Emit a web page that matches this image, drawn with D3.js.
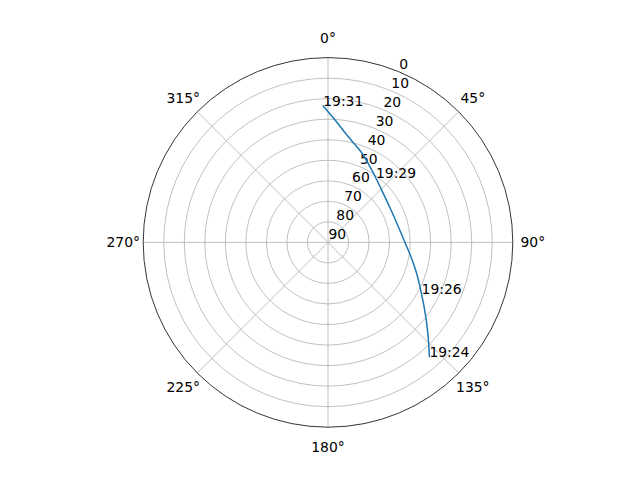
<!DOCTYPE html>
<html>
<head>
<meta charset="utf-8">
<script src="https://cdn.jsdelivr.net/npm/d3@7"></script>
<style>
  html, body { margin: 0; padding: 0; background: #fff; }
  text { font-family: "DejaVu Sans", sans-serif; font-size: 13.9px; fill: #000; }
</style>
</head>
<body>
<svg id="chart" width="640" height="480"></svg>
<script>
// Satellite pass (azimuth deg, elevation deg).
const azimuth = [138.4, 134.2, 129.3, 123.8, 118.9, 109.2, 99.8, 89.5, 77.4, 62.8, 48.4, 36.8, 31.1, 20.9, 10.9, 3.3, 358.0];
const elevation = [15.6, 21.8, 27.9, 33.7, 37.95, 44.3, 49.0, 52.65, 54.9, 55.5, 54.0, 51.0, 48.8, 43.5, 37.6, 30.3, 23.5];
const timeLabels = ['19:24', '', '', '', '19:26', '', '', '', '', '', '', '19:29', '', '', '', '', '19:31'];

const radialTicks = [0, 10, 20, 30, 40, 50, 60, 70, 80, 90];
const angleTicks = [0, 45, 90, 135, 180, 225, 270, 315];

const cx = 328, cy = 242.4, R = 184.8;

const svg = d3.select('#chart');
const g = svg.append('g').attr('transform', `translate(${cx},${cy})`);

// Elevation 90 at the centre, 0 on the rim.
const r = d3.scaleLinear().domain([90, 0]).range([0, R]);
const rad = (deg) => deg * Math.PI / 180;
const px = (az, el) => [r(el) * Math.sin(rad(az)), -r(el) * Math.cos(rad(az))];

// Grid circles
g.selectAll('circle.grid')
  .data(radialTicks.filter((d) => d > 0 && d < 90))
  .enter().append('circle')
  .attr('class', 'grid')
  .attr('r', (d) => r(d))
  .attr('fill', 'none')
  .attr('stroke', '#b0b0b0')
  .attr('stroke-width', 0.8);

// Spokes
g.selectAll('line.spoke')
  .data(angleTicks)
  .enter().append('line')
  .attr('class', 'spoke')
  .attr('x1', 0).attr('y1', 0)
  .attr('x2', (d) => px(d, 0)[0])
  .attr('y2', (d) => px(d, 0)[1])
  .attr('stroke', '#b0b0b0')
  .attr('stroke-width', 0.8);

// Outer spine
g.append('circle')
  .attr('r', R)
  .attr('fill', 'none')
  .attr('stroke', '#000')
  .attr('stroke-width', 0.8);

// Angle labels
g.selectAll('text.theta')
  .data(angleTicks)
  .enter().append('text')
  .attr('class', 'theta')
  .attr('x', (d) => (R + 20) * Math.sin(rad(d)))
  .attr('y', (d) => -(R + 20) * Math.cos(rad(d)))
  .attr('text-anchor', 'middle')
  .attr('dominant-baseline', 'central')
  .text((d) => `${d}°`);

// Elevation labels along 22.5°
g.selectAll('text.rlabel')
  .data(radialTicks)
  .enter().append('text')
  .attr('class', 'rlabel')
  .attr('x', (d) => px(22.5, d)[0] + 0.5)
  .attr('y', (d) => px(22.5, d)[1] - 3)
  .attr('text-anchor', 'start')
  .text((d) => d);

// Track
const pts = azimuth.map((az, i) => px(az, elevation[i]));
const line = d3.line().curve(d3.curveCatmullRom.alpha(0.5));

g.append('path')
  .attr('d', line(pts))
  .attr('fill', 'none')
  .attr('stroke', '#1f77b4')
  .attr('stroke-width', 1.5)
  .attr('stroke-linecap', 'square');

// Time annotations
g.selectAll('text.time')
  .data(pts.map((p, i) => ({ p, t: timeLabels[i] })).filter((d) => d.t))
  .enter().append('text')
  .attr('class', 'time')
  .attr('x', (d) => d.p[0])
  .attr('y', (d) => d.p[1])
  .attr('text-anchor', 'start')
  .text((d) => d.t);
</script>
</body>
</html>
